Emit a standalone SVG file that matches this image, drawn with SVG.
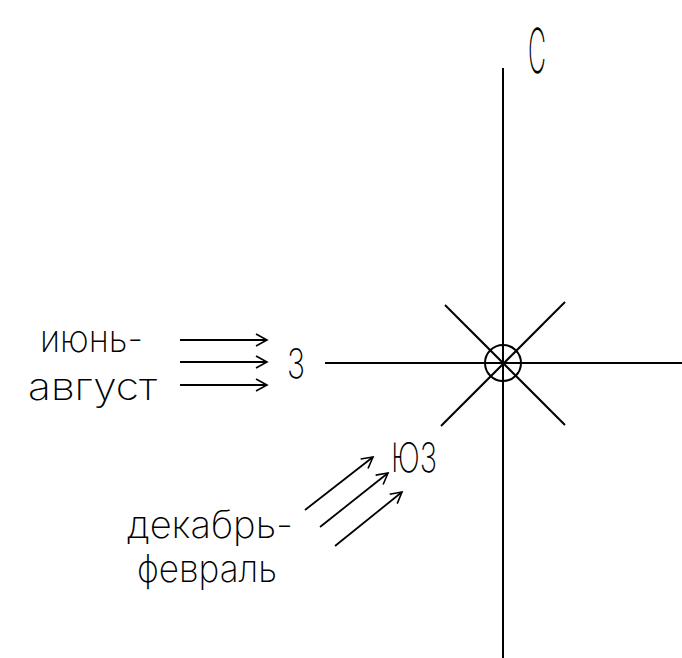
<svg xmlns="http://www.w3.org/2000/svg" width="682" height="658" viewBox="0 0 682 658">
<style>
.ln{stroke:#000;stroke-width:2;fill:none}
.ar{stroke:#000;stroke-width:1.8;fill:none}
.t{font-family:Inter,"Open Sans","DejaVu Sans",sans-serif;font-weight:250;fill:#000}
</style>
<defs>
<marker id="vee" markerWidth="14" markerHeight="14" refX="12" refY="7" orient="auto" markerUnits="userSpaceOnUse">
<path d="M1,1 L12,7 L1,13" fill="none" stroke="#000" stroke-width="1.6"/>
</marker>
</defs>
<rect width="682" height="658" fill="#fff"/>
<g id="compass">
<line class="ln" x1="503" y1="68" x2="503" y2="658"/>
<line class="ln" x1="325" y1="363" x2="682" y2="363"/>
<line class="ln" x1="445" y1="305" x2="565" y2="425"/>
<line class="ln" x1="565" y1="302" x2="441" y2="426"/>
<circle class="ln" cx="503" cy="363" r="18"/>
</g>
<g id="labels">
<text class="t" x="528" y="73" font-size="62" textLength="18" lengthAdjust="spacingAndGlyphs">С</text>
<text class="t" x="287" y="378" font-size="41" textLength="18" lengthAdjust="spacingAndGlyphs">З</text>
<text class="t" x="391" y="472" font-size="41" textLength="46" lengthAdjust="spacingAndGlyphs">ЮЗ</text>
<text class="t" x="40" y="352" font-size="38" textLength="103" lengthAdjust="spacingAndGlyphs">июнь-</text>
<text class="t" x="28" y="400" font-size="38" textLength="129" lengthAdjust="spacingAndGlyphs">август</text>
<text class="t" x="127" y="538" font-size="38" textLength="166" lengthAdjust="spacingAndGlyphs">декабрь-</text>
<text class="t" x="137" y="582" font-size="38" textLength="140" lengthAdjust="spacingAndGlyphs">февраль</text>
</g>
<g id="connectors">
<line class="ar" x1="180" y1="340" x2="267" y2="340" marker-end="url(#vee)"/>
<line class="ar" x1="180" y1="362" x2="267" y2="362" marker-end="url(#vee)"/>
<line class="ar" x1="180" y1="385" x2="267" y2="385" marker-end="url(#vee)"/>
<line class="ar" x1="305" y1="510" x2="373" y2="457" marker-end="url(#vee)"/>
<line class="ar" x1="320" y1="527" x2="388" y2="473" marker-end="url(#vee)"/>
<line class="ar" x1="335" y1="546" x2="402" y2="492" marker-end="url(#vee)"/>
</g>
</svg>
